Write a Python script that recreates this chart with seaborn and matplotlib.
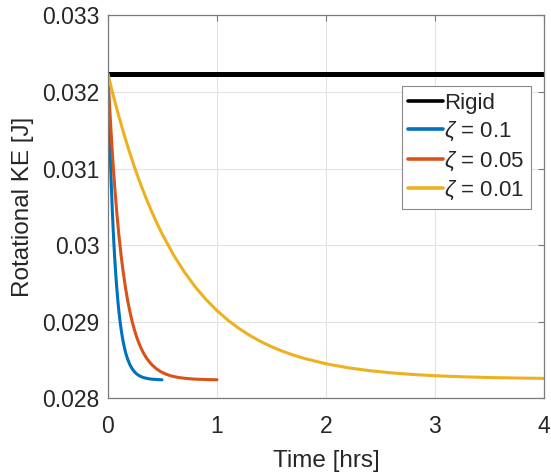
import matplotlib
matplotlib.use("Agg")
import matplotlib.pyplot as plt
import seaborn as sns
import pandas as pd

# ---- data ----
rigid_t = [0.0, 4.0]
rigid_v = [0.03224, 0.03224]

t_01 = [0, 0.005, 0.01, 0.02, 0.03, 0.04, 0.05, 0.06, 0.07, 0.08, 0.09, 0.10,
        0.11, 0.12, 0.13, 0.14, 0.15, 0.16, 0.17, 0.18, 0.20, 0.22, 0.24,
        0.26, 0.28, 0.30, 0.325, 0.35, 0.375, 0.40, 0.45, 0.495]
v_01 = [0.03223, 0.031943, 0.031675, 0.0312, 0.03079, 0.030436, 0.030131,
        0.029868, 0.029644, 0.029449, 0.029281, 0.029137, 0.029012, 0.028906,
        0.028813, 0.028734, 0.028665, 0.028606, 0.028556, 0.028512, 0.028442,
        0.02839, 0.028351, 0.028322, 0.028301, 0.028285, 0.028271, 0.028262,
        0.028255, 0.02825, 0.028245, 0.028242]

t_005 = [0, 0.01, 0.02, 0.04, 0.06, 0.08, 0.10, 0.12, 0.14, 0.16, 0.18, 0.20,
         0.22, 0.24, 0.26, 0.28, 0.30, 0.32, 0.34, 0.36, 0.40, 0.44, 0.48,
         0.52, 0.56, 0.60, 0.65, 0.70, 0.75, 0.80, 0.90, 1.0]
v_005 = [0.03223, 0.031943, 0.031675, 0.0312, 0.03079, 0.030436, 0.030131,
         0.029868, 0.029644, 0.029449, 0.029281, 0.029137, 0.029012, 0.028906,
         0.028813, 0.028734, 0.028665, 0.028606, 0.028556, 0.028512, 0.028442,
         0.02839, 0.028351, 0.028322, 0.028301, 0.028285, 0.028271, 0.028262,
         0.028255, 0.02825, 0.028245, 0.028242]

t_001 = [0, 0.05, 0.1, 0.15, 0.2, 0.25, 0.3, 0.35, 0.4, 0.45, 0.5, 0.6, 0.7,
         0.8, 0.9, 1.0, 1.1, 1.2, 1.3, 1.4, 1.5, 1.6, 1.7, 1.8, 2.0, 2.2, 2.4,
         2.6, 2.8, 3.0, 3.25, 3.5, 3.75, 4.0]
v_001 = [0.03223, 0.031943, 0.031678, 0.031432, 0.031203, 0.03099, 0.030793,
         0.03061, 0.030441, 0.030283, 0.030137, 0.029875, 0.02965, 0.029456,
         0.029289, 0.029145, 0.029021, 0.028914, 0.028822, 0.028742, 0.028674,
         0.028615, 0.028565, 0.028521, 0.028451, 0.028399, 0.028361, 0.028332,
         0.028311, 0.028295, 0.028281, 0.028271, 0.028265, 0.02826]

labels = ["Rigid", r"$\zeta$ = 0.1", r"$\zeta$ = 0.05", r"$\zeta$ = 0.01"]
colors = ["#000000", "#0072BD", "#D95319", "#EDB120"]
x_ticks = [0, 1, 2, 3, 4]
y_ticks = [0.028, 0.029, 0.030, 0.031, 0.032, 0.033]
y_tick_labels = ["0.028", "0.029", "0.03", "0.031", "0.032", "0.033"]

sns.set_style("white")
plt.rcParams["font.family"] = ["Liberation Sans", "DejaVu Sans"]
plt.rcParams["mathtext.fontset"] = "custom"
plt.rcParams["mathtext.rm"] = "Liberation Sans"
plt.rcParams["mathtext.it"] = "Liberation Sans:italic"

fig = plt.figure(figsize=(5.51, 4.74), dpi=100)
ax = fig.add_axes([0.196, 0.1597, 0.791, 0.808])

series = [(rigid_t, rigid_v), (t_01, v_01), (t_005, v_005), (t_001, v_001)]
widths = [3.6, 2.2, 2.2, 2.2]
for (t, v), lab, col, lw in zip(series, labels, colors, widths):
    df = pd.DataFrame({"t": t, "v": v})
    sns.lineplot(data=df, x="t", y="v", ax=ax, color=col, linewidth=lw,
                 label=lab, sort=True, estimator=None)

ax.set_xlim(0, 4)
ax.set_ylim(0.028, 0.033)
ax.set_xticks(x_ticks)
ax.set_xticklabels([str(x) for x in x_ticks])
ax.set_yticks(y_ticks)
ax.set_yticklabels(y_tick_labels)

ax.grid(True, color="#e3e3e3", linewidth=0.8)
for s in ax.spines.values():
    s.set_color("#7a7a7a")
    s.set_linewidth(0.9)
ax.tick_params(axis="both", which="both", direction="in", length=4,
               color="#7a7a7a", labelsize=16.5, labelcolor="#262626",
               top=True, right=True)
ax.tick_params(axis="x", pad=12)
ax.tick_params(axis="y", pad=6)

ax.set_xlabel("Time [hrs]", fontsize=17.5, color="#262626", labelpad=9)
ax.set_ylabel("Rotational KE [J]", fontsize=17.5, color="#262626", labelpad=6)

leg = ax.legend(loc="upper right", bbox_to_anchor=(0.970, 0.815),
                fontsize=16, frameon=True, fancybox=False, framealpha=1,
                edgecolor="#8a8a8a", handlelength=1.55, handletextpad=0.05,
                borderpad=0.3, labelspacing=0.27, borderaxespad=0)
leg.get_frame().set_linewidth(0.8)
for line in leg.get_lines():
    line.set_linewidth(2.6)

fig.savefig("out.png", dpi=100)
